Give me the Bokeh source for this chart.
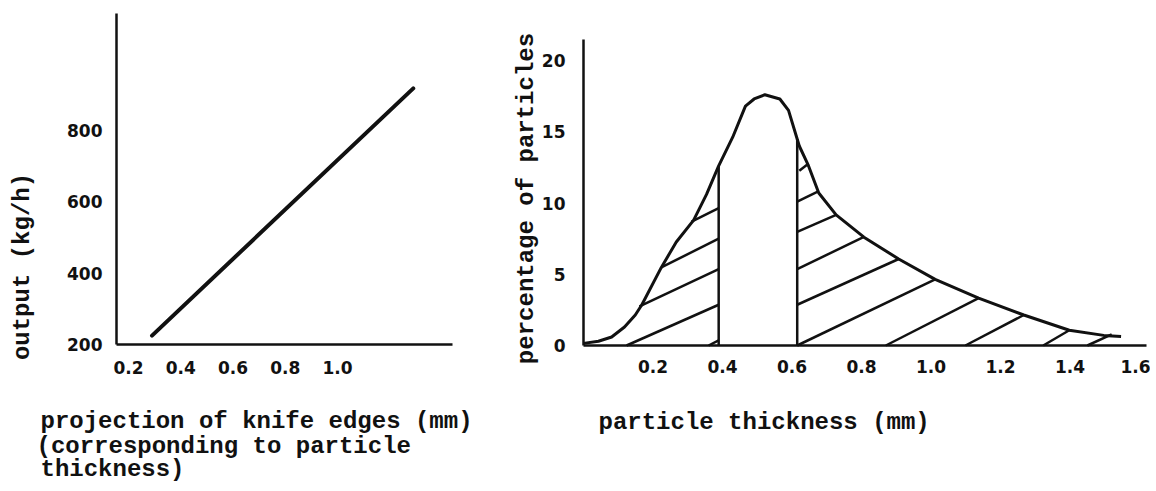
import numpy as np
from math import pi
from bokeh.plotting import figure
from bokeh.layouts import row
from bokeh.models import Label, FixedTicker, Range1d
from bokeh.embed import file_html
from bokeh.resources import INLINE

# ---------------- data: left chart ----------------
proj_x = [0.29, 1.29]            # projection of knife edges (mm)
output_y = [225, 918]            # output (kg/h)
left_xticks = [0.2, 0.4, 0.6, 0.8, 1.0]
left_xlabels = ["0.2", "0.4", "0.6", "0.8", "1.0"]
left_yticks = [200, 400, 600, 800]
left_ylabels = ["200", "400", "600", "800"]

# ---------------- data: right chart ----------------
thick_x = [0.0, 0.043, 0.081, 0.118, 0.149, 0.168, 0.224, 0.267, 0.317, 0.354,
           0.389, 0.429, 0.466, 0.491, 0.522, 0.565, 0.59, 0.621, 0.646, 0.677,
           0.727, 0.807, 0.907, 1.012, 1.137, 1.267, 1.398, 1.497, 1.547]
pct_y = [0.15, 0.3, 0.6, 1.3, 2.14, 2.86, 5.48, 7.26, 8.8, 10.6,
         12.6, 14.6, 16.8, 17.3, 17.6, 17.3, 16.5, 14.0, 12.7, 10.7,
         9.17, 7.6, 6.07, 4.64, 3.33, 2.14, 1.07, 0.71, 0.64]
band_edges = [0.389, 0.615]      # unshaded band boundaries
hatch_x0 = [0.124, 0.161, 0.224, 0.311, 0.36,
            0.621, 0.615, 0.615, 0.615, 0.615, 0.615, 0.87, 1.099, 1.323, 1.45]
hatch_y0 = [0.0, 2.74, 5.48, 8.69, 0.0,
            12.26, 10.1, 7.98, 5.36, 2.86, 0.0, 0.0, 0.0, 0.0, 0.0]
hatch_x1 = [0.389, 0.389, 0.389, 0.389, 0.389,
            0.646, 0.677, 0.727, 0.807, 0.907, 1.012, 1.137, 1.267, 1.398, 1.52]
hatch_y1 = [2.86, 5.36, 7.5, 9.64, 0.36,
            12.74, 10.83, 9.17, 7.62, 6.07, 4.64, 3.33, 2.14, 1.07, 0.78]
right_xticks = [0.2, 0.4, 0.6, 0.8, 1.0, 1.2, 1.4, 1.6]
right_xlabels = ["0.2", "0.4", "0.6", "0.8", "1.0", "1.2", "1.4", "1.6"]
right_yticks = [0, 5, 10, 15, 20]
right_ylabels = ["0", "5", "10", "15", "20"]

INK = "#111111"
MONO = "Liberation Mono"
TICKFONT = "DejaVu Sans"
H = 490


def span(v0, s0, v1, s1, lo, hi):
    """range end values so that value v0 sits at pixel s0 and v1 at s1"""
    k = (v1 - v0) / (s1 - s0)
    return Range1d(v0 + (lo - s0) * k, v0 + (hi - s0) * k)


def style_axes(p, xt, xl, yt, yl, xloc, yloc, xb, yb, xstand, ystand):
    p.grid.visible = False
    p.outline_line_color = None
    p.xaxis.fixed_location = xloc
    p.yaxis.fixed_location = yloc
    p.xaxis.bounds = xb
    p.yaxis.bounds = yb
    p.xaxis.ticker = FixedTicker(ticks=xt)
    p.xaxis.major_label_overrides = {t: s for t, s in zip(xt, xl)}
    p.yaxis.ticker = FixedTicker(ticks=yt)
    p.yaxis.major_label_overrides = {t: s for t, s in zip(yt, yl)}
    for ax in (p.xaxis, p.yaxis):
        ax.axis_line_color = INK
        ax.axis_line_width = 2.5
        ax.major_tick_line_color = None
        ax.minor_tick_line_color = None
        ax.major_label_text_font = TICKFONT
        ax.major_label_text_font_size = "17px"
        ax.major_label_text_font_style = "bold"
        ax.major_label_text_color = INK
    p.xaxis.major_label_standoff = xstand
    p.yaxis.major_label_standoff = ystand


lab_kw = dict(x_units="screen", y_units="screen", text_font=MONO,
              text_font_style="bold", text_color=INK, text_font_size="24px")

# ---------------- left figure (page x 0..500) ----------------
W1 = 500
p1 = figure(width=W1, height=H,
            x_range=span(0.2, 128, 1.0, 337, 0, W1),
            y_range=span(200, 344, 800, 130, H, 0),
            output_backend="svg", toolbar_location=None,
            min_border=0)
style_axes(p1, left_xticks, left_xlabels, left_yticks, left_ylabels,
           200, 0.154, (0.154, 1.441), (200, 1128), 10, 8)
p1.line(proj_x, output_y, line_color=INK, line_width=4, line_cap="round")

p1.add_layout(Label(x=22, y=H - 266, text="output (kg/h)", angle=pi / 2,
                    text_align="center", text_baseline="middle", **lab_kw))
for txt, sx, sy in [("projection of knife edges (mm)", 40, 421),
                    ("(corresponding to particle", 36, 446),
                    ("thickness)", 40, 469)]:
    p1.add_layout(Label(x=sx, y=H - sy, text=txt, text_align="left",
                        text_baseline="middle", **lab_kw))

# ---------------- right figure (page x 500..1150) ----------------
X2 = W1
W2 = 1150 - W1
p2 = figure(width=W2, height=H,
            x_range=span(0.0, 583 - X2, 1.6, 1139 - X2, 0, W2),
            y_range=span(0, 345, 20, 60, H, 0),
            output_backend="svg", toolbar_location=None,
            min_border=0)
style_axes(p2, right_xticks, right_xlabels, right_yticks, right_ylabels,
           0, 0, (0, 1.62), (0, 21.5), 8, 12)

p2.line(thick_x, pct_y, line_color=INK, line_width=3, line_join="round")
edge_tops = list(np.interp(band_edges, thick_x, pct_y))
p2.segment(x0=band_edges, y0=[0, 0], x1=band_edges, y1=edge_tops,
           line_color=INK, line_width=2.5)
p2.segment(x0=hatch_x0, y0=hatch_y0, x1=hatch_x1, y1=hatch_y1,
           line_color=INK, line_width=2.5)

p2.add_layout(Label(x=526 - X2, y=H - 198, text="percentage of particles",
                    angle=pi / 2, text_align="center", text_baseline="middle",
                    **lab_kw))
p2.add_layout(Label(x=598 - X2, y=H - 422, text="particle thickness (mm)",
                    text_align="left", text_baseline="middle", **lab_kw))

layout = row(p1, p2)
open("out.html", "w").write(file_html(layout, INLINE))
